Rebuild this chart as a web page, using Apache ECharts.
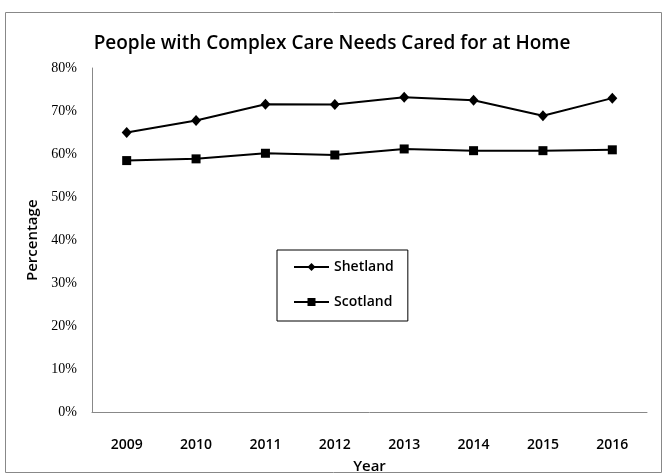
<!DOCTYPE html>
<html>
<head>
<meta charset="utf-8">
<script src="https://cdn.jsdelivr.net/npm/echarts@6/dist/echarts.min.js"></script>
<style>
html,body{margin:0;padding:0;background:#fff;}
#chart{width:664px;height:474px;}
</style>
</head>
<body>
<div id="chart"></div>
<script>
var years = ['2009','2010','2011','2012','2013','2014','2015','2016'];
var shetland = [65.0, 67.8, 71.6, 71.5, 73.2, 72.5, 68.9, 73.0];
var scotland = [58.5, 58.9, 60.2, 59.8, 61.2, 60.8, 60.8, 61.0];
var yTicks = [0, 10, 20, 30, 40, 50, 60, 70, 80];

var chart = echarts.init(document.getElementById('chart'));
chart.setOption({
  animation: false,
  backgroundColor: '#fff',
  title: {
    text: 'People with Complex Care Needs Cared for at Home',
    left: 'center',
    top: 29,
    textStyle: {fontFamily: 'Open Sans', fontWeight: 600, fontSize: 19, color: '#000'}
  },
  graphic: [{
    type: 'rect',
    shape: {x: 5.5, y: 12.5, width: 656, height: 460},
    style: {fill: 'none', stroke: '#888', lineWidth: 1},
    silent: true
  }],
  legend: {
    orient: 'vertical',
    left: 277,
    top: 250,
    padding: [10, 14, 12, 16],
    itemWidth: 35,
    itemHeight: 10,
    itemGap: 21,
    borderColor: '#000',
    borderWidth: 1,
    textStyle: {fontFamily: 'Open Sans', fontWeight: 600, fontSize: 14, color: '#000'},
    data: ['Shetland', 'Scotland']
  },
  grid: {left: 92, right: 17, top: 68, bottom: 61.5, containLabel: false, outerBoundsMode: 'none'},
  xAxis: {
    type: 'category',
    data: years,
    boundaryGap: true,
    name: 'Year',
    nameLocation: 'middle',
    nameGap: 47,
    nameTextStyle: {fontFamily: 'Open Sans', fontWeight: 600, fontSize: 15, color: '#000'},
    axisLine: {lineStyle: {color: '#888', width: 1}},
    axisTick: {show: false},
    axisLabel: {fontFamily: 'Open Sans', fontWeight: 600, fontSize: 14, color: '#000', margin: 26}
  },
  yAxis: {
    type: 'value',
    min: 0,
    max: 80,
    interval: 10,
    name: 'Percentage',
    nameLocation: 'middle',
    nameGap: 51,
    nameRotate: 90,
    nameTextStyle: {fontFamily: 'Open Sans', fontWeight: 600, fontSize: 15, color: '#000'},
    axisLine: {show: true, lineStyle: {color: '#888', width: 1}},
    axisTick: {show: false},
    splitLine: {show: false},
    axisLabel: {fontFamily: 'Liberation Serif', fontSize: 14, color: '#000', margin: 15,
      formatter: function (v) { return yTicks.indexOf(v) >= 0 ? v + '%' : ''; }}
  },
  series: [{
    name: 'Shetland',
    type: 'line',
    data: shetland,
    symbol: 'diamond',
    symbolSize: [10, 11],
    lineStyle: {color: '#000', width: 2},
    itemStyle: {color: '#000'}
  }, {
    name: 'Scotland',
    type: 'line',
    data: scotland,
    symbol: 'rect',
    symbolSize: 9,
    lineStyle: {color: '#000', width: 2},
    itemStyle: {color: '#000'}
  }]
});
</script>
</body>
</html>
